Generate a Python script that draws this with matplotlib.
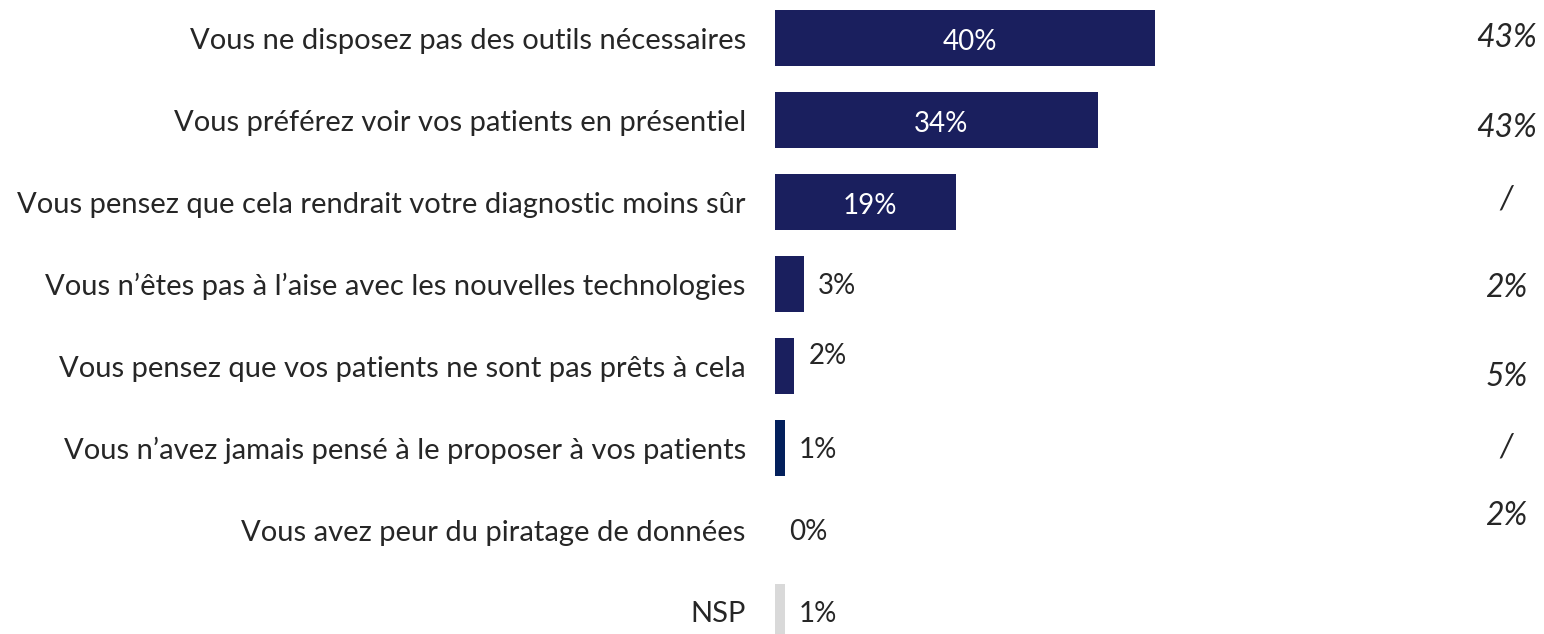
import matplotlib
matplotlib.use('Agg')
import matplotlib.pyplot as plt

plt.rcParams['font.family'] = ['Lato', 'DejaVu Sans']

categories = [
    'Vous ne disposez pas des outils nécessaires',
    'Vous préférez voir vos patients en présentiel',
    'Vous pensez que cela rendrait votre diagnostic moins sûr',
    'Vous n\u2019êtes pas à l\u2019aise avec les nouvelles technologies',
    'Vous pensez que vos patients ne sont pas prêts à cela',
    'Vous n\u2019avez jamais pensé à le proposer à vos patients',
    'Vous avez peur du piratage de données',
    'NSP',
]
values = [40, 34, 19, 3, 2, 1, 0, 1]
previous = ['43%', '43%', '/', '2%', '5%', '/', '2%']

colors = ['#1a1f5e'] * 5 + ['#03205c', '#1a1f5e', '#d9d9d9']
# small vertical shifts of the right-hand column (in rows)
prev_shift = [0, 0.1, -0.03, 0.05, 0.14, 0, -0.17]

fig = plt.figure(figsize=(15.44, 6.34), dpi=100)
ax = fig.add_axes([775 / 1544, 0, 769 / 1544, 1])

y = range(len(categories))
ax.barh(y, values, height=0.68, color=colors, linewidth=0)
ax.set_xlim(0, 769 / 9.5)
ax.set_ylim((634 - 38) / 82, -38 / 82)

ax.set_yticks(list(y))
ax.set_yticklabels(categories, fontsize=21, color='#262626')
ax.tick_params(axis='y', length=0, pad=21)
ax.set_xticks([])
for s in ax.spines.values():
    s.set_visible(False)

for i, v in enumerate(values):
    if v >= 10:
        ax.text(v / 2 + 0.5, i + 0.05, f'{v}%', ha='center', va='center',
                fontsize=20, color='white')
    else:
        dy = -0.12 if i == 4 else 0.02
        ax.text(v + 1.5, i + dy, f'{v}%', ha='left', va='center',
                fontsize=20, color='#262626')

for i, t in enumerate(previous):
    ax.text(77, i + prev_shift[i], t, ha='center', va='center',
            fontsize=23, style='italic', color='#262626')

fig.savefig('out.png', dpi=100)
